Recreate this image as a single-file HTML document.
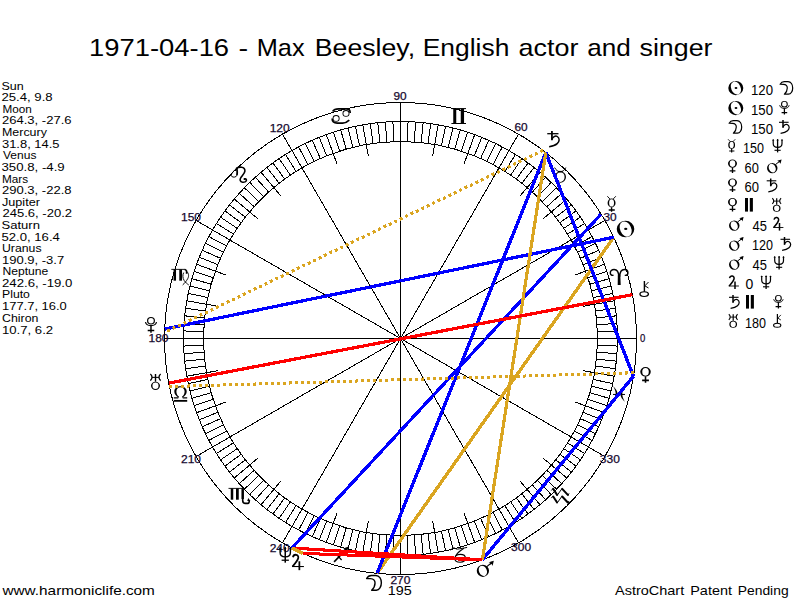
<!DOCTYPE html>
<html><head><meta charset="utf-8"><title>AstroChart</title>
<style>
html,body{margin:0;padding:0;background:#fff;overflow:hidden;}
body{width:800px;height:600px;font-family:"Liberation Sans",sans-serif;}
svg{display:block;}
</style></head><body>
<svg width="800" height="600" viewBox="0 0 800 600">
<rect width="800" height="600" fill="#fff"/>
<g shape-rendering="crispEdges" fill="none" stroke="#000" stroke-width="1">
<circle cx="400.5" cy="338.5" r="236.0"/>
<circle cx="400.5" cy="338.5" r="217.0"/>
<circle cx="400.5" cy="338.5" r="197.0"/>
<path d="M617.5,338.5L586.1,338.5M617.37,330.93L597.38,331.62M616.97,323.36L597.02,324.76M616.31,315.82L596.42,317.91M615.39,308.3L595.58,311.08M614.2,300.82L583.28,306.27M612.76,293.38L593.2,297.54M611.05,286L591.65,290.84M609.09,278.69L589.87,284.2M606.88,271.44L587.86,277.62M604.41,264.28L574.91,275.02M601.7,257.21L583.16,264.7M598.74,250.24L580.47,258.37M595.54,243.37L577.56,252.14M592.1,236.62L574.44,246.01M588.43,230L561.23,245.7M584.53,223.51L567.57,234.11M580.4,217.16L563.82,228.34M576.06,210.95L559.88,222.71M571.5,204.9L555.74,217.21M566.73,199.02L542.68,219.2M561.76,193.3L546.9,206.68M556.6,187.76L542.21,201.65M551.24,182.4L537.35,196.79M545.7,177.24L532.32,192.1M539.98,172.27L519.8,196.32M534.1,167.5L521.79,183.26M528.05,162.94L516.29,179.12M521.84,158.6L510.66,175.18M515.49,154.47L504.89,171.43M509,150.57L493.3,177.77M502.38,146.9L492.99,164.56M495.63,143.46L486.86,161.44M488.76,140.26L480.63,158.53M481.79,137.3L474.3,155.84M474.72,134.59L463.98,164.09M467.56,132.12L461.38,151.14M460.31,129.91L454.8,149.13M453,127.95L448.16,147.35M445.62,126.24L441.46,145.8M438.18,124.8L432.73,155.72M430.7,123.61L427.92,143.42M423.18,122.69L421.09,142.58M415.64,122.03L414.24,141.98M408.07,121.63L407.38,141.62M400.5,121.5L400.5,152.9M392.93,121.63L393.62,141.62M385.36,122.03L386.76,141.98M377.82,122.69L379.91,142.58M370.3,123.61L373.08,143.42M362.82,124.8L368.27,155.72M355.38,126.24L359.54,145.8M348,127.95L352.84,147.35M340.69,129.91L346.2,149.13M333.44,132.12L339.62,151.14M326.28,134.59L337.02,164.09M319.21,137.3L326.7,155.84M312.24,140.26L320.37,158.53M305.37,143.46L314.14,161.44M298.62,146.9L308.01,164.56M292,150.57L307.7,177.77M285.51,154.47L296.11,171.43M279.16,158.6L290.34,175.18M272.95,162.94L284.71,179.12M266.9,167.5L279.21,183.26M261.02,172.27L281.2,196.32M255.3,177.24L268.68,192.1M249.76,182.4L263.65,196.79M244.4,187.76L258.79,201.65M239.24,193.3L254.1,206.68M234.27,199.02L258.32,219.2M229.5,204.9L245.26,217.21M224.94,210.95L241.12,222.71M220.6,217.16L237.18,228.34M216.47,223.51L233.43,234.11M212.57,230L239.77,245.7M208.9,236.62L226.56,246.01M205.46,243.37L223.44,252.14M202.26,250.24L220.53,258.37M199.3,257.21L217.84,264.7M196.59,264.28L226.09,275.02M194.12,271.44L213.14,277.62M191.91,278.69L211.13,284.2M189.95,286L209.35,290.84M188.24,293.38L207.8,297.54M186.8,300.82L217.72,306.27M185.61,308.3L205.42,311.08M184.69,315.82L204.58,317.91M184.03,323.36L203.98,324.76M183.63,330.93L203.62,331.62M183.5,338.5L214.9,338.5M183.63,346.07L203.62,345.38M184.03,353.64L203.98,352.24M184.69,361.18L204.58,359.09M185.61,368.7L205.42,365.92M186.8,376.18L217.72,370.73M188.24,383.62L207.8,379.46M189.95,391L209.35,386.16M191.91,398.31L211.13,392.8M194.12,405.56L213.14,399.38M196.59,412.72L226.09,401.98M199.3,419.79L217.84,412.3M202.26,426.76L220.53,418.63M205.46,433.63L223.44,424.86M208.9,440.38L226.56,430.99M212.57,447L239.77,431.3M216.47,453.49L233.43,442.89M220.6,459.84L237.18,448.66M224.94,466.05L241.12,454.29M229.5,472.1L245.26,459.79M234.27,477.98L258.32,457.8M239.24,483.7L254.1,470.32M244.4,489.24L258.79,475.35M249.76,494.6L263.65,480.21M255.3,499.76L268.68,484.9M261.02,504.73L281.2,480.68M266.9,509.5L279.21,493.74M272.95,514.06L284.71,497.88M279.16,518.4L290.34,501.82M285.51,522.53L296.11,505.57M292,526.43L307.7,499.23M298.62,530.1L308.01,512.44M305.37,533.54L314.14,515.56M312.24,536.74L320.37,518.47M319.21,539.7L326.7,521.16M326.28,542.41L337.02,512.91M333.44,544.88L339.62,525.86M340.69,547.09L346.2,527.87M348,549.05L352.84,529.65M355.38,550.76L359.54,531.2M362.82,552.2L368.27,521.28M370.3,553.39L373.08,533.58M377.82,554.31L379.91,534.42M385.36,554.97L386.76,535.02M392.93,555.37L393.62,535.38M400.5,555.5L400.5,524.1M408.07,555.37L407.38,535.38M415.64,554.97L414.24,535.02M423.18,554.31L421.09,534.42M430.7,553.39L427.92,533.58M438.18,552.2L432.73,521.28M445.62,550.76L441.46,531.2M453,549.05L448.16,529.65M460.31,547.09L454.8,527.87M467.56,544.88L461.38,525.86M474.72,542.41L463.98,512.91M481.79,539.7L474.3,521.16M488.76,536.74L480.63,518.47M495.63,533.54L486.86,515.56M502.38,530.1L492.99,512.44M509,526.43L493.3,499.23M515.49,522.53L504.89,505.57M521.84,518.4L510.66,501.82M528.05,514.06L516.29,497.88M534.1,509.5L521.79,493.74M539.98,504.73L519.8,480.68M545.7,499.76L532.32,484.9M551.24,494.6L537.35,480.21M556.6,489.24L542.21,475.35M561.76,483.7L546.9,470.32M566.73,477.98L542.68,457.8M571.5,472.1L555.74,459.79M576.06,466.05L559.88,454.29M580.4,459.84L563.82,448.66M584.53,453.49L567.57,442.89M588.43,447L561.23,431.3M592.1,440.38L574.44,430.99M595.54,433.63L577.56,424.86M598.74,426.76L580.47,418.63M601.7,419.79L583.16,412.3M604.41,412.72L574.91,401.98M606.88,405.56L587.86,399.38M609.09,398.31L589.87,392.8M611.05,391L591.65,386.16M612.76,383.62L593.2,379.46M614.2,376.18L583.28,370.73M615.39,368.7L595.58,365.92M616.31,361.18L596.42,359.09M616.97,353.64L597.02,352.24M617.37,346.07L597.38,345.38M400.5,338.5L636.5,338.5M400.5,338.5L604.88,220.5M400.5,338.5L518.5,134.12M400.5,338.5L400.5,102.5M400.5,338.5L282.5,134.12M400.5,338.5L196.12,220.5M400.5,338.5L164.5,338.5M400.5,338.5L196.12,456.5M400.5,338.5L282.5,542.88M400.5,338.5L400.5,574.5M400.5,338.5L518.5,542.88M400.5,338.5L604.88,456.5"/>
</g>
<g id="zodiac">
<g transform="translate(609.5,268.77) scale(1)"><path d="M8.2,16.25H11.2L10.9,8.5C10.8,7 10.6,6 10.2,5L9.5,4.4L8.8,5C8.4,6 8.3,7 8.3,8.5z"/><path d="M9.3,8C9.2,4 7.6,0.8 4.6,0.8C2.2,0.8 0.8,2.4 0.8,4.2C0.8,5.8 2.2,6.9 4,6.5" fill="none" stroke="#000" stroke-width="1.45" stroke-linecap="butt" stroke-linejoin="miter"/><path d="M10.2,8C10.3,4 11.9,0.8 14.9,0.8C17.3,0.8 18.4,2.4 18.4,4.2C18.4,5.8 17.1,6.9 15.3,6.5" fill="none" stroke="#000" stroke-width="1.45" stroke-linecap="butt" stroke-linejoin="miter"/></g>
<g transform="translate(554.5,167.45) scale(1)"><path d="M0.3,9.6a5.6,5.7 0 1,0 11.2,0a5.6,5.7 0 1,0 -11.2,0zM1.7,9.6A4.2,4.9 0 1,0 10.1,9.6A4.2,4.9 0 1,0 1.7,9.6z" fill-rule="evenodd"/><path d="M0.1,0.1C1.6,2.8 3.4,4.3 5.8,4.3C8.2,4.3 10,2.8 11.3,0.1" fill="none" stroke="#000" stroke-width="1.0" stroke-linecap="butt" stroke-linejoin="miter"/><path d="M3.6,4.1H8" fill="none" stroke="#000" stroke-width="1.3" stroke-linecap="butt" stroke-linejoin="miter"/></g>
<g transform="translate(451.4,108.1) scale(1)"><rect x="1.85" y="0.5" width="3" height="15"/><rect x="9.35" y="0.5" width="3.3" height="15"/><path d="M0,0.5H14.6M0,15.4H14.6" fill="none" stroke="#000" stroke-width="1.0" stroke-linecap="butt" stroke-linejoin="miter"/></g>
<g transform="translate(331.6,107.9) scale(1)"><path d="M1.1,3.6C2.4,1.2 4.8,0.9 7,0.9H15C17.4,0.9 18.6,2.8 18.6,5" fill="none" stroke="#000" stroke-width="1.7" stroke-linecap="butt" stroke-linejoin="miter"/><path d="M10.9,5.5a3.5,3.3 0 1,0 7,0a3.5,3.3 0 1,0 -7,0zM11.8,5.5A2.6,2.5 0 1,0 17,5.5A2.6,2.5 0 1,0 11.8,5.5z" fill-rule="evenodd"/><path d="M0.5,10.6C0.5,13.4 2.6,15.2 5.6,15.2H11C13.6,15.2 16,13.8 17.7,12.2" fill="none" stroke="#000" stroke-width="1.6" stroke-linecap="butt" stroke-linejoin="miter"/><path d="M1,10.5a3.5,3.3 0 1,0 7,0a3.5,3.3 0 1,0 -7,0zM1.9,10.5A2.6,2.5 0 1,0 7.1,10.5A2.6,2.5 0 1,0 1.9,10.5z" fill-rule="evenodd"/></g>
<g transform="translate(230.5,166.5) scale(1)"><path d="M6.3,1.6C6.7,4 6.9,6.5 6.5,8.6" fill="none" stroke="#000" stroke-width="1.8" stroke-linecap="butt" stroke-linejoin="miter"/><path d="M6.5,8.6C6,10.8 2.6,11.2 1.2,9.9C0,8.7 1.4,6.8 2.6,5.4C3.8,4 5,2.4 6.3,1.6" fill="none" stroke="#000" stroke-width="1.0" stroke-linecap="butt" stroke-linejoin="miter"/><path d="M6.1,1.7C7.6,0.7 9.6,0.6 11,0.7C13.4,0.9 14.6,2.6 14.4,4.7C14.2,7 11.4,9.4 10.2,11.4C9.2,13 9.4,15.5 12,15.7C14,15.9 15.8,15.3 15.9,13.8C16,12.5 14.8,12 13.9,12.5" fill="none" stroke="#000" stroke-width="1.6" stroke-linecap="round" stroke-linejoin="round"/><circle cx="14.2" cy="12.6" r="1.0"/></g>
<g transform="translate(171.28,268.98) scale(1)"><path d="M0,0.4H14" fill="none" stroke="#000" stroke-width="0.9" stroke-linecap="butt" stroke-linejoin="miter"/><rect x="2.25" y="0.4" width="2.5" height="11.3"/><rect x="8" y="0.4" width="2.75" height="11.3"/><path d="M13.4,0.5C15.4,0.9 15.7,3 15.2,4.8" fill="none" stroke="#000" stroke-width="1.7" stroke-linecap="butt" stroke-linejoin="miter"/><path d="M15,2.2C17.4,3.8 18,7 16.4,9.8C15,12.2 13,14.6 11.4,16" fill="none" stroke="#000" stroke-width="0.95" stroke-linecap="butt" stroke-linejoin="miter"/><path d="M12.4,3.6C11.2,6 11.4,9 12.8,11.4C14,13.4 16,15 17.5,16" fill="none" stroke="#000" stroke-width="0.95" stroke-linecap="butt" stroke-linejoin="miter"/></g>
<g transform="translate(173.7,386.25) scale(1)"><path d="M0.1,11.6H4.6M9,11.6H13.5" fill="none" stroke="#000" stroke-width="1.2" stroke-linecap="butt" stroke-linejoin="miter"/><path d="M4.9,11.4C2,9.6 0.6,7.4 0.6,5.2C0.6,2 3.4,0 6.8,0C10.2,0 13,2 13,5.2C13,7.4 11.6,9.6 8.7,11.4L8.2,10.6C10,9.2 10.9,7.4 10.9,5.2C10.9,2.6 9.2,0.9 6.8,0.9C4.4,0.9 2.7,2.6 2.7,5.2C2.7,7.4 3.6,9.2 5.4,10.6z"/><rect x="0.1" y="13.7" width="13.4" height="1.8"/></g>
<g transform="translate(228.5,488) scale(1)"><path d="M0,0.4H15" fill="none" stroke="#000" stroke-width="0.9" stroke-linecap="butt" stroke-linejoin="miter"/><rect x="2.25" y="0.4" width="2.5" height="11.3"/><rect x="7.5" y="0.4" width="2.75" height="11.3"/><path d="M14.2,0.4V12.4C14.2,14.9 15.4,15.4 17,15.4H19.4C20.4,15.4 20.8,14.6 20.8,12.6" fill="none" stroke="#000" stroke-width="1.6" stroke-linecap="butt" stroke-linejoin="miter"/><path d="M14.2,0.4V11" fill="none" stroke="#000" stroke-width="2.4" stroke-linecap="butt" stroke-linejoin="miter"/><path d="M19.8,10.1L21.9,13L18.7,13z"/></g>
<g transform="translate(333.6,546.6) scale(1)"><path d="M0.5,15.3L13,2.4" fill="none" stroke="#000" stroke-width="1.6" stroke-linecap="butt" stroke-linejoin="miter"/><path d="M4.2,9.2L8,13.4" fill="none" stroke="#000" stroke-width="1.2" stroke-linecap="butt" stroke-linejoin="miter"/><path d="M15,0L9.6,1.8L13.4,5.6z"/></g>
<g transform="translate(450.52,547.02) scale(1)"><path d="M0,3.4C1,1.6 2.6,0.4 3.8,0.9C5,1.4 5.6,2.3 7,2.1C9.6,1.7 13.4,1 16.6,0.4" fill="none" stroke="#000" stroke-width="1.0" stroke-linecap="butt" stroke-linejoin="miter"/><path d="M13.4,1.2C9.6,3.6 4.4,7 4.4,11.4C4.4,14.2 6.8,15.2 9.6,15.2C12.6,15.2 14.9,13.8 14.9,11.3C14.9,8.8 12.6,7.4 9.8,7.4C8,7.4 6.4,7.9 5.4,8.8" fill="none" stroke="#000" stroke-width="1.15" stroke-linecap="butt" stroke-linejoin="miter"/></g>
<g transform="translate(551,488) scale(1)"><path d="M0.3,2.5L2,0.6L6.3,7.2L11,0.6L17.1,7.2L18,5.4M0.3,10.1L2,8.2L6.3,14.8L11,8.2L17.1,14.8L18,13" fill="none" stroke="#000" stroke-width="1.0" stroke-linecap="butt" stroke-linejoin="round"/><path d="M2.2,0.9L6.1,6.9M11.2,0.9L16.8,6.9M2.2,8.5L6.1,14.5M11.2,8.5L16.8,14.5" fill="none" stroke="#000" stroke-width="2.0" stroke-linecap="round" stroke-linejoin="miter"/></g>
<g transform="translate(613,386.25) scale(1)"><path d="M0.2,0C3.8,3.5 4.6,6 4.6,7.75C4.6,9.5 3.8,12 0.2,15.5C2.2,12 2.7,9.5 2.7,7.75C2.7,6 2.2,3.5 0.2,0z"/><path d="M11.8,0C8.2,3.5 7.4,6 7.4,7.75C7.4,9.5 8.2,12 11.8,15.5C9.8,12 9.3,9.5 9.3,7.75C9.3,6 9.8,3.5 11.8,0z"/><path d="M0,8.2H12" fill="none" stroke="#000" stroke-width="1.0" stroke-linecap="butt" stroke-linejoin="miter"/></g>
</g>
<g font-family="Liberation Sans, sans-serif" font-size="11.2" fill="#16082e" stroke="#16082e" stroke-width="0.25">
<text x="639.95" y="342.2" textLength="5.3" lengthAdjust="spacingAndGlyphs">0</text>
<text x="603.52" y="220.6" textLength="13.2" lengthAdjust="spacingAndGlyphs">30</text>
<text x="514.5" y="131.38" textLength="13.2" lengthAdjust="spacingAndGlyphs">60</text>
<text x="393.4" y="99.8" textLength="13.2" lengthAdjust="spacingAndGlyphs">90</text>
<text x="269.7" y="132.28" textLength="20.0" lengthAdjust="spacingAndGlyphs">120</text>
<text x="180.98" y="221" textLength="20.0" lengthAdjust="spacingAndGlyphs">150</text>
<text x="148.5" y="342.2" textLength="20.0" lengthAdjust="spacingAndGlyphs">180</text>
<text x="180.98" y="463.4" textLength="20.0" lengthAdjust="spacingAndGlyphs">210</text>
<text x="269.7" y="552.12" textLength="20.0" lengthAdjust="spacingAndGlyphs">240</text>
<text x="390.4" y="583.6" textLength="20.0" lengthAdjust="spacingAndGlyphs">270</text>
<text x="511.1" y="551.32" textLength="20.0" lengthAdjust="spacingAndGlyphs">300</text>
<text x="599.82" y="463.4" textLength="20.0" lengthAdjust="spacingAndGlyphs">330</text>
</g>
<g shape-rendering="crispEdges" stroke-width="3" fill="none">
<line x1="613.69" y1="237.27" x2="377.06" y2="573.33" stroke="#DAA520" stroke-width="3.37"/>
<line x1="613.69" y1="237.27" x2="164.69" y2="329.03" stroke="#0000FF" stroke-width="3.26"/>
<line x1="377.06" y1="573.33" x2="545.8" y2="152.53" stroke="#0000FF" stroke-width="3.38"/>
<line x1="601.07" y1="214.14" x2="291.89" y2="548.02" stroke="#0000FF" stroke-width="3.29"/>
<line x1="633.46" y1="376.23" x2="482.38" y2="559.84" stroke="#0000FF" stroke-width="3.33"/>
<line x1="633.46" y1="376.23" x2="545.8" y2="152.53" stroke="#0000FF" stroke-width="3.38"/>
<line x1="634" y1="372.77" x2="169.45" y2="386.56" stroke="#DAA520" stroke-width="3.03" stroke-dasharray="3 3"/>
<line x1="482.38" y1="559.84" x2="303.01" y2="553.42" stroke="#FF0000" stroke-width="3.06"/>
<line x1="482.38" y1="559.84" x2="545.8" y2="152.53" stroke="#DAA520" stroke-width="3.21"/>
<line x1="482.38" y1="559.84" x2="291.89" y2="548.02" stroke="#FF0000" stroke-width="3.09"/>
<line x1="303.01" y1="553.42" x2="291.89" y2="548.02" stroke="#DAA520" stroke-width="3.4"/>
<line x1="543.02" y1="150.39" x2="164.58" y2="332.53" stroke="#DAA520" stroke-width="3.14" stroke-dasharray="3 3"/>
<line x1="168.76" y1="383.13" x2="632.4" y2="294.68" stroke="#FF0000" stroke-width="3.25"/>
</g>
<g id="planets">
<g transform="translate(547.25,131) scale(1.17)"><path d="M4,0V7.8" fill="none" stroke="#000" stroke-width="1.5" stroke-linecap="butt" stroke-linejoin="miter"/><path d="M0,2.3H9.6" fill="none" stroke="#000" stroke-width="1.1" stroke-linecap="butt" stroke-linejoin="miter"/><path d="M4,7.4C4.5,5 7,3.7 8.6,4.7C10.8,6.1 10.6,9 8.5,10.8C7,12.2 5,13 1.6,13.4" fill="none" stroke="#000" stroke-width="1.25" stroke-linecap="butt" stroke-linejoin="miter"/></g>
<g transform="translate(607.3,196) scale(1.17)"><path d="M0.25,5.9a3.4,3.85 0 1,0 6.8,0a3.4,3.85 0 1,0 -6.8,0zM1.55,5.9A2.1,3.1 0 1,0 5.75,5.9A2.1,3.1 0 1,0 1.55,5.9z" fill-rule="evenodd"/><path d="M0,0.2L2.2,2.5M7.3,0.2L5.1,2.5" fill="none" stroke="#000" stroke-width="0.8" stroke-linecap="butt" stroke-linejoin="miter"/><path d="M3.65,9.6V13.5M1.2,12H6.4" fill="none" stroke="#000" stroke-width="1.2" stroke-linecap="butt" stroke-linejoin="miter"/></g>
<g transform="translate(616.75,220.75) scale(1.17)"><path d="M0,7.1a7.5,7.1 0 1,0 15,0a7.5,7.1 0 1,0 -15,0zM3.31,9.01A4.7,6.5 -24 1,0 11.89,5.19A4.7,6.5 -24 1,0 3.31,9.01z" fill-rule="evenodd"/><ellipse cx="7.7" cy="7" rx="1.4" ry="0.95"/></g>
<g transform="translate(639.25,281) scale(1.17)"><path d="M4.4,0V9.2" fill="none" stroke="#000" stroke-width="1.2" stroke-linecap="butt" stroke-linejoin="miter"/><path d="M7.9,0.9L4.8,4.1L7.9,6" fill="none" stroke="#000" stroke-width="0.85" stroke-linecap="butt" stroke-linejoin="miter"/><path d="M0,11.2a4.2,2.5 0 1,0 8.4,0a4.2,2.5 0 1,0 -8.4,0zM1.2,11.2A3,1.55 0 1,0 7.2,11.2A3,1.55 0 1,0 1.2,11.2z" fill-rule="evenodd"/></g>
<g transform="translate(640.25,367) scale(1.17)"><path d="M0,4.1a4.5,4.1 0 1,0 9,0a4.5,4.1 0 1,0 -9,0zM1.7,4.1A2.8,3.3 0 1,0 7.3,4.1A2.8,3.3 0 1,0 1.7,4.1z" fill-rule="evenodd"/><path d="M4.5,8V13.5M1.6,11.4H7.4" fill="none" stroke="#000" stroke-width="1.35" stroke-linecap="butt" stroke-linejoin="miter"/></g>
<g transform="translate(476.75,560.75) scale(1.17)"><path d="M0,8.6a5.25,5.2 0 1,0 10.5,0a5.25,5.2 0 1,0 -10.5,0zM2.24,9.94A3.3,4.3 -24 1,0 8.26,7.26A3.3,4.3 -24 1,0 2.24,9.94z" fill-rule="evenodd"/><path d="M8.6,5L13.4,1.1" fill="none" stroke="#000" stroke-width="1.0" stroke-linecap="butt" stroke-linejoin="miter"/><path d="M14.6,0L10.2,1.3L11.9,1.9L11.3,3.4L12.8,2.7L13.5,4.4z"/></g>
<g transform="translate(366.5,574.75) scale(1.17)"><path d="M0.1,3.2C1.2,1.2 2.6,0.6 4.2,0.6H8C11,0.6 12.7,3.6 12.7,6.9C12.7,10.2 11,13.2 8.4,13.2H4.4C6.2,11.6 7.3,9.6 7.3,7.1C7.3,4.6 5.6,3.4 3.4,3.3z" fill="none" stroke="#000" stroke-width="1.2" stroke-linecap="butt" stroke-linejoin="round"/></g>
<g transform="translate(291.75,554.25) scale(1.17)"><path d="M1.0,2.6C1.4,0.8 2.8,0.3 3.8,0.5C5.3,0.8 5.9,2 5.5,3.5C4.9,5.8 2.6,8.2 0.6,10.5" fill="none" stroke="#000" stroke-width="1.5" stroke-linecap="butt" stroke-linejoin="miter"/><path d="M0.2,10.5H10.4" fill="none" stroke="#000" stroke-width="0.9" stroke-linecap="butt" stroke-linejoin="miter"/><path d="M6.5,6V13.6" fill="none" stroke="#000" stroke-width="1.5" stroke-linecap="butt" stroke-linejoin="miter"/></g>
<g transform="translate(278.7,547) scale(1.17)"><path d="M1.2,0.7V4.6C1.2,7.4 3,8.4 5.6,8.4C8.2,8.4 10,7.4 10,4.6V0.7" fill="none" stroke="#000" stroke-width="1.2" stroke-linecap="butt" stroke-linejoin="miter"/><path d="M5.6,0.2V13.4" fill="none" stroke="#000" stroke-width="1.3" stroke-linecap="butt" stroke-linejoin="miter"/><path d="M2.5,11.3H8.7" fill="none" stroke="#000" stroke-width="1.1" stroke-linecap="butt" stroke-linejoin="miter"/><path d="M0,1.6L1.2,0L2.4,1.6zM8.8,1.6L10,0L11.2,1.6zM4.4,1.5L5.6,-0.1L6.8,1.5z"/></g>
<g transform="translate(150,373.75) scale(1.17)"><path d="M0.3,0.2C2.2,1.7 2.2,4.4 0.3,5.9M9.1,0.2C7.2,1.7 7.2,4.4 9.1,5.9" fill="none" stroke="#000" stroke-width="1.15" stroke-linecap="butt" stroke-linejoin="miter"/><path d="M1.7,3.1H7.7" fill="none" stroke="#000" stroke-width="0.9" stroke-linecap="butt" stroke-linejoin="miter"/><path d="M4.7,0.2V6.8" fill="none" stroke="#000" stroke-width="1.2" stroke-linecap="butt" stroke-linejoin="miter"/><path d="M0.85,10.3a3.85,3.5 0 1,0 7.7,0a3.85,3.5 0 1,0 -7.7,0zM2.1,10.3A2.6,2.8 0 1,0 7.3,10.3A2.6,2.8 0 1,0 2.1,10.3z" fill-rule="evenodd"/></g>
<g transform="translate(145.25,317) scale(1.17)"><path d="M1.5,3.2a3.4,3.2 0 1,0 6.8,0a3.4,3.2 0 1,0 -6.8,0zM2.55,3.2A2.35,2.35 0 1,0 7.25,3.2A2.35,2.35 0 1,0 2.55,3.2z" fill-rule="evenodd"/><path d="M0.2,4.3C0.7,8.4 9.1,8.4 9.6,4.3" fill="none" stroke="#000" stroke-width="1.0" stroke-linecap="butt" stroke-linejoin="miter"/><path d="M4.9,7.2V13.5M2.1,11.5H7.7" fill="none" stroke="#000" stroke-width="1.25" stroke-linecap="butt" stroke-linejoin="miter"/></g>
</g>
<g id="aspects">
<g transform="translate(728.3,81) scale(1)"><path d="M0,7.1a7.5,7.1 0 1,0 15,0a7.5,7.1 0 1,0 -15,0zM3.31,9.01A4.7,6.5 -24 1,0 11.89,5.19A4.7,6.5 -24 1,0 3.31,9.01z" fill-rule="evenodd"/><ellipse cx="7.7" cy="7" rx="1.4" ry="0.95"/></g>
<g transform="translate(780,81) scale(1)"><path d="M0.1,3.2C1.2,1.2 2.6,0.6 4.2,0.6H8C11,0.6 12.7,3.6 12.7,6.9C12.7,10.2 11,13.2 8.4,13.2H4.4C6.2,11.6 7.3,9.6 7.3,7.1C7.3,4.6 5.6,3.4 3.4,3.3z" fill="none" stroke="#000" stroke-width="1.2" stroke-linecap="butt" stroke-linejoin="round"/></g>
<g transform="translate(728.3,101) scale(1)"><path d="M0,7.1a7.5,7.1 0 1,0 15,0a7.5,7.1 0 1,0 -15,0zM3.31,9.01A4.7,6.5 -24 1,0 11.89,5.19A4.7,6.5 -24 1,0 3.31,9.01z" fill-rule="evenodd"/><ellipse cx="7.7" cy="7" rx="1.4" ry="0.95"/></g>
<g transform="translate(779.5,101) scale(1)"><path d="M1.5,3.2a3.4,3.2 0 1,0 6.8,0a3.4,3.2 0 1,0 -6.8,0zM2.55,3.2A2.35,2.35 0 1,0 7.25,3.2A2.35,2.35 0 1,0 2.55,3.2z" fill-rule="evenodd"/><path d="M0.2,4.3C0.7,8.4 9.1,8.4 9.6,4.3" fill="none" stroke="#000" stroke-width="1.0" stroke-linecap="butt" stroke-linejoin="miter"/><path d="M4.9,7.2V13.5M2.1,11.5H7.7" fill="none" stroke="#000" stroke-width="1.25" stroke-linecap="butt" stroke-linejoin="miter"/></g>
<g transform="translate(729,120) scale(1)"><path d="M0.1,3.2C1.2,1.2 2.6,0.6 4.2,0.6H8C11,0.6 12.7,3.6 12.7,6.9C12.7,10.2 11,13.2 8.4,13.2H4.4C6.2,11.6 7.3,9.6 7.3,7.1C7.3,4.6 5.6,3.4 3.4,3.3z" fill="none" stroke="#000" stroke-width="1.2" stroke-linecap="butt" stroke-linejoin="round"/></g>
<g transform="translate(779,120) scale(1)"><path d="M4,0V7.8" fill="none" stroke="#000" stroke-width="1.5" stroke-linecap="butt" stroke-linejoin="miter"/><path d="M0,2.3H9.6" fill="none" stroke="#000" stroke-width="1.1" stroke-linecap="butt" stroke-linejoin="miter"/><path d="M4,7.4C4.5,5 7,3.7 8.6,4.7C10.8,6.1 10.6,9 8.5,10.8C7,12.2 5,13 1.6,13.4" fill="none" stroke="#000" stroke-width="1.25" stroke-linecap="butt" stroke-linejoin="miter"/></g>
<g transform="translate(728,139) scale(1)"><path d="M0.25,5.9a3.4,3.85 0 1,0 6.8,0a3.4,3.85 0 1,0 -6.8,0zM1.55,5.9A2.1,3.1 0 1,0 5.75,5.9A2.1,3.1 0 1,0 1.55,5.9z" fill-rule="evenodd"/><path d="M0,0.2L2.2,2.5M7.3,0.2L5.1,2.5" fill="none" stroke="#000" stroke-width="0.8" stroke-linecap="butt" stroke-linejoin="miter"/><path d="M3.65,9.6V13.5M1.2,12H6.4" fill="none" stroke="#000" stroke-width="1.2" stroke-linecap="butt" stroke-linejoin="miter"/></g>
<g transform="translate(772,139) scale(1)"><path d="M1.2,0.7V4.6C1.2,7.4 3,8.4 5.6,8.4C8.2,8.4 10,7.4 10,4.6V0.7" fill="none" stroke="#000" stroke-width="1.2" stroke-linecap="butt" stroke-linejoin="miter"/><path d="M5.6,0.2V13.4" fill="none" stroke="#000" stroke-width="1.3" stroke-linecap="butt" stroke-linejoin="miter"/><path d="M2.5,11.3H8.7" fill="none" stroke="#000" stroke-width="1.1" stroke-linecap="butt" stroke-linejoin="miter"/><path d="M0,1.6L1.2,0L2.4,1.6zM8.8,1.6L10,0L11.2,1.6zM4.4,1.5L5.6,-0.1L6.8,1.5z"/></g>
<g transform="translate(728,159.5) scale(1)"><path d="M0,4.1a4.5,4.1 0 1,0 9,0a4.5,4.1 0 1,0 -9,0zM1.7,4.1A2.8,3.3 0 1,0 7.3,4.1A2.8,3.3 0 1,0 1.7,4.1z" fill-rule="evenodd"/><path d="M4.5,8V13.5M1.6,11.4H7.4" fill="none" stroke="#000" stroke-width="1.35" stroke-linecap="butt" stroke-linejoin="miter"/></g>
<g transform="translate(767,159.5) scale(1)"><path d="M0,8.6a5.25,5.2 0 1,0 10.5,0a5.25,5.2 0 1,0 -10.5,0zM2.24,9.94A3.3,4.3 -24 1,0 8.26,7.26A3.3,4.3 -24 1,0 2.24,9.94z" fill-rule="evenodd"/><path d="M8.6,5L13.4,1.1" fill="none" stroke="#000" stroke-width="1.0" stroke-linecap="butt" stroke-linejoin="miter"/><path d="M14.6,0L10.2,1.3L11.9,1.9L11.3,3.4L12.8,2.7L13.5,4.4z"/></g>
<g transform="translate(728,178.5) scale(1)"><path d="M0,4.1a4.5,4.1 0 1,0 9,0a4.5,4.1 0 1,0 -9,0zM1.7,4.1A2.8,3.3 0 1,0 7.3,4.1A2.8,3.3 0 1,0 1.7,4.1z" fill-rule="evenodd"/><path d="M4.5,8V13.5M1.6,11.4H7.4" fill="none" stroke="#000" stroke-width="1.35" stroke-linecap="butt" stroke-linejoin="miter"/></g>
<g transform="translate(766.7,178.5) scale(1)"><path d="M4,0V7.8" fill="none" stroke="#000" stroke-width="1.5" stroke-linecap="butt" stroke-linejoin="miter"/><path d="M0,2.3H9.6" fill="none" stroke="#000" stroke-width="1.1" stroke-linecap="butt" stroke-linejoin="miter"/><path d="M4,7.4C4.5,5 7,3.7 8.6,4.7C10.8,6.1 10.6,9 8.5,10.8C7,12.2 5,13 1.6,13.4" fill="none" stroke="#000" stroke-width="1.25" stroke-linecap="butt" stroke-linejoin="miter"/></g>
<g transform="translate(728,198) scale(1)"><path d="M0,4.1a4.5,4.1 0 1,0 9,0a4.5,4.1 0 1,0 -9,0zM1.7,4.1A2.8,3.3 0 1,0 7.3,4.1A2.8,3.3 0 1,0 1.7,4.1z" fill-rule="evenodd"/><path d="M4.5,8V13.5M1.6,11.4H7.4" fill="none" stroke="#000" stroke-width="1.35" stroke-linecap="butt" stroke-linejoin="miter"/></g>
<g transform="translate(745,198) scale(1)"><rect x="0" y="0" width="3" height="13.6"/><rect x="4.8" y="0" width="3.1" height="13.6"/></g>
<g transform="translate(772,198) scale(1)"><path d="M0.3,0.2C2.2,1.7 2.2,4.4 0.3,5.9M9.1,0.2C7.2,1.7 7.2,4.4 9.1,5.9" fill="none" stroke="#000" stroke-width="1.15" stroke-linecap="butt" stroke-linejoin="miter"/><path d="M1.7,3.1H7.7" fill="none" stroke="#000" stroke-width="0.9" stroke-linecap="butt" stroke-linejoin="miter"/><path d="M4.7,0.2V6.8" fill="none" stroke="#000" stroke-width="1.2" stroke-linecap="butt" stroke-linejoin="miter"/><path d="M0.85,10.3a3.85,3.5 0 1,0 7.7,0a3.85,3.5 0 1,0 -7.7,0zM2.1,10.3A2.6,2.8 0 1,0 7.3,10.3A2.6,2.8 0 1,0 2.1,10.3z" fill-rule="evenodd"/></g>
<g transform="translate(729,217) scale(1)"><path d="M0,8.6a5.25,5.2 0 1,0 10.5,0a5.25,5.2 0 1,0 -10.5,0zM2.24,9.94A3.3,4.3 -24 1,0 8.26,7.26A3.3,4.3 -24 1,0 2.24,9.94z" fill-rule="evenodd"/><path d="M8.6,5L13.4,1.1" fill="none" stroke="#000" stroke-width="1.0" stroke-linecap="butt" stroke-linejoin="miter"/><path d="M14.6,0L10.2,1.3L11.9,1.9L11.3,3.4L12.8,2.7L13.5,4.4z"/></g>
<g transform="translate(773,217) scale(1)"><path d="M1.0,2.6C1.4,0.8 2.8,0.3 3.8,0.5C5.3,0.8 5.9,2 5.5,3.5C4.9,5.8 2.6,8.2 0.6,10.5" fill="none" stroke="#000" stroke-width="1.5" stroke-linecap="butt" stroke-linejoin="miter"/><path d="M0.2,10.5H10.4" fill="none" stroke="#000" stroke-width="0.9" stroke-linecap="butt" stroke-linejoin="miter"/><path d="M6.5,6V13.6" fill="none" stroke="#000" stroke-width="1.5" stroke-linecap="butt" stroke-linejoin="miter"/></g>
<g transform="translate(729,237) scale(1)"><path d="M0,8.6a5.25,5.2 0 1,0 10.5,0a5.25,5.2 0 1,0 -10.5,0zM2.24,9.94A3.3,4.3 -24 1,0 8.26,7.26A3.3,4.3 -24 1,0 2.24,9.94z" fill-rule="evenodd"/><path d="M8.6,5L13.4,1.1" fill="none" stroke="#000" stroke-width="1.0" stroke-linecap="butt" stroke-linejoin="miter"/><path d="M14.6,0L10.2,1.3L11.9,1.9L11.3,3.4L12.8,2.7L13.5,4.4z"/></g>
<g transform="translate(780.5,237) scale(1)"><path d="M4,0V7.8" fill="none" stroke="#000" stroke-width="1.5" stroke-linecap="butt" stroke-linejoin="miter"/><path d="M0,2.3H9.6" fill="none" stroke="#000" stroke-width="1.1" stroke-linecap="butt" stroke-linejoin="miter"/><path d="M4,7.4C4.5,5 7,3.7 8.6,4.7C10.8,6.1 10.6,9 8.5,10.8C7,12.2 5,13 1.6,13.4" fill="none" stroke="#000" stroke-width="1.25" stroke-linecap="butt" stroke-linejoin="miter"/></g>
<g transform="translate(729,256) scale(1)"><path d="M0,8.6a5.25,5.2 0 1,0 10.5,0a5.25,5.2 0 1,0 -10.5,0zM2.24,9.94A3.3,4.3 -24 1,0 8.26,7.26A3.3,4.3 -24 1,0 2.24,9.94z" fill-rule="evenodd"/><path d="M8.6,5L13.4,1.1" fill="none" stroke="#000" stroke-width="1.0" stroke-linecap="butt" stroke-linejoin="miter"/><path d="M14.6,0L10.2,1.3L11.9,1.9L11.3,3.4L12.8,2.7L13.5,4.4z"/></g>
<g transform="translate(773.5,256) scale(1)"><path d="M1.2,0.7V4.6C1.2,7.4 3,8.4 5.6,8.4C8.2,8.4 10,7.4 10,4.6V0.7" fill="none" stroke="#000" stroke-width="1.2" stroke-linecap="butt" stroke-linejoin="miter"/><path d="M5.6,0.2V13.4" fill="none" stroke="#000" stroke-width="1.3" stroke-linecap="butt" stroke-linejoin="miter"/><path d="M2.5,11.3H8.7" fill="none" stroke="#000" stroke-width="1.1" stroke-linecap="butt" stroke-linejoin="miter"/><path d="M0,1.6L1.2,0L2.4,1.6zM8.8,1.6L10,0L11.2,1.6zM4.4,1.5L5.6,-0.1L6.8,1.5z"/></g>
<g transform="translate(728.5,275.5) scale(1)"><path d="M1.0,2.6C1.4,0.8 2.8,0.3 3.8,0.5C5.3,0.8 5.9,2 5.5,3.5C4.9,5.8 2.6,8.2 0.6,10.5" fill="none" stroke="#000" stroke-width="1.5" stroke-linecap="butt" stroke-linejoin="miter"/><path d="M0.2,10.5H10.4" fill="none" stroke="#000" stroke-width="0.9" stroke-linecap="butt" stroke-linejoin="miter"/><path d="M6.5,6V13.6" fill="none" stroke="#000" stroke-width="1.5" stroke-linecap="butt" stroke-linejoin="miter"/></g>
<g transform="translate(760.5,275.5) scale(1)"><path d="M1.2,0.7V4.6C1.2,7.4 3,8.4 5.6,8.4C8.2,8.4 10,7.4 10,4.6V0.7" fill="none" stroke="#000" stroke-width="1.2" stroke-linecap="butt" stroke-linejoin="miter"/><path d="M5.6,0.2V13.4" fill="none" stroke="#000" stroke-width="1.3" stroke-linecap="butt" stroke-linejoin="miter"/><path d="M2.5,11.3H8.7" fill="none" stroke="#000" stroke-width="1.1" stroke-linecap="butt" stroke-linejoin="miter"/><path d="M0,1.6L1.2,0L2.4,1.6zM8.8,1.6L10,0L11.2,1.6zM4.4,1.5L5.6,-0.1L6.8,1.5z"/></g>
<g transform="translate(729,295) scale(1)"><path d="M4,0V7.8" fill="none" stroke="#000" stroke-width="1.5" stroke-linecap="butt" stroke-linejoin="miter"/><path d="M0,2.3H9.6" fill="none" stroke="#000" stroke-width="1.1" stroke-linecap="butt" stroke-linejoin="miter"/><path d="M4,7.4C4.5,5 7,3.7 8.6,4.7C10.8,6.1 10.6,9 8.5,10.8C7,12.2 5,13 1.6,13.4" fill="none" stroke="#000" stroke-width="1.25" stroke-linecap="butt" stroke-linejoin="miter"/></g>
<g transform="translate(746,295) scale(1)"><rect x="0" y="0" width="3" height="13.6"/><rect x="4.8" y="0" width="3.1" height="13.6"/></g>
<g transform="translate(773.5,295) scale(1)"><path d="M1.5,3.2a3.4,3.2 0 1,0 6.8,0a3.4,3.2 0 1,0 -6.8,0zM2.55,3.2A2.35,2.35 0 1,0 7.25,3.2A2.35,2.35 0 1,0 2.55,3.2z" fill-rule="evenodd"/><path d="M0.2,4.3C0.7,8.4 9.1,8.4 9.6,4.3" fill="none" stroke="#000" stroke-width="1.0" stroke-linecap="butt" stroke-linejoin="miter"/><path d="M4.9,7.2V13.5M2.1,11.5H7.7" fill="none" stroke="#000" stroke-width="1.25" stroke-linecap="butt" stroke-linejoin="miter"/></g>
<g transform="translate(728.5,314) scale(1)"><path d="M0.3,0.2C2.2,1.7 2.2,4.4 0.3,5.9M9.1,0.2C7.2,1.7 7.2,4.4 9.1,5.9" fill="none" stroke="#000" stroke-width="1.15" stroke-linecap="butt" stroke-linejoin="miter"/><path d="M1.7,3.1H7.7" fill="none" stroke="#000" stroke-width="0.9" stroke-linecap="butt" stroke-linejoin="miter"/><path d="M4.7,0.2V6.8" fill="none" stroke="#000" stroke-width="1.2" stroke-linecap="butt" stroke-linejoin="miter"/><path d="M0.85,10.3a3.85,3.5 0 1,0 7.7,0a3.85,3.5 0 1,0 -7.7,0zM2.1,10.3A2.6,2.8 0 1,0 7.3,10.3A2.6,2.8 0 1,0 2.1,10.3z" fill-rule="evenodd"/></g>
<g transform="translate(773,314) scale(1)"><path d="M4.4,0V9.2" fill="none" stroke="#000" stroke-width="1.2" stroke-linecap="butt" stroke-linejoin="miter"/><path d="M7.9,0.9L4.8,4.1L7.9,6" fill="none" stroke="#000" stroke-width="0.85" stroke-linecap="butt" stroke-linejoin="miter"/><path d="M0,11.2a4.2,2.5 0 1,0 8.4,0a4.2,2.5 0 1,0 -8.4,0zM1.2,11.2A3,1.55 0 1,0 7.2,11.2A3,1.55 0 1,0 1.2,11.2z" fill-rule="evenodd"/></g>
</g>
<g font-family="Liberation Sans, sans-serif" fill="#000">
<text x="1.5" y="90" font-size="11.3" textLength="22.23" lengthAdjust="spacingAndGlyphs">Sun</text>
<text x="1.5" y="101" font-size="11.3" textLength="51.13" lengthAdjust="spacingAndGlyphs">25.4, 9.8</text>
<text x="2.5" y="112.5" font-size="11.3" textLength="29.33" lengthAdjust="spacingAndGlyphs">Moon</text>
<text x="2" y="124" font-size="11.3" textLength="69.52" lengthAdjust="spacingAndGlyphs">264.3, -27.6</text>
<text x="2" y="136" font-size="11.3" textLength="44.88" lengthAdjust="spacingAndGlyphs">Mercury</text>
<text x="2" y="148" font-size="11.3" textLength="57.48" lengthAdjust="spacingAndGlyphs">31.8, 14.5</text>
<text x="3" y="158.5" font-size="11.3" textLength="33.46" lengthAdjust="spacingAndGlyphs">Venus</text>
<text x="1.5" y="170.5" font-size="11.3" textLength="63.19" lengthAdjust="spacingAndGlyphs">350.8, -4.9</text>
<text x="2" y="182.5" font-size="11.3" textLength="26.16" lengthAdjust="spacingAndGlyphs">Mars</text>
<text x="2" y="194" font-size="11.3" textLength="69.52" lengthAdjust="spacingAndGlyphs">290.3, -22.8</text>
<text x="2" y="205.5" font-size="11.3" textLength="37.91" lengthAdjust="spacingAndGlyphs">Jupiter</text>
<text x="2.5" y="217" font-size="11.3" textLength="69.52" lengthAdjust="spacingAndGlyphs">245.6, -20.2</text>
<text x="1.5" y="228.5" font-size="11.3" textLength="38.5" lengthAdjust="spacingAndGlyphs">Saturn</text>
<text x="1.5" y="240.5" font-size="11.3" textLength="58.34" lengthAdjust="spacingAndGlyphs">52.0, 16.4</text>
<text x="2" y="252" font-size="11.3" textLength="39.54" lengthAdjust="spacingAndGlyphs">Uranus</text>
<text x="2" y="264" font-size="11.3" textLength="62.17" lengthAdjust="spacingAndGlyphs">190.9, -3.7</text>
<text x="2.5" y="274.5" font-size="11.3" textLength="45.87" lengthAdjust="spacingAndGlyphs">Neptune</text>
<text x="2" y="286.5" font-size="11.3" textLength="70.36" lengthAdjust="spacingAndGlyphs">242.6, -19.0</text>
<text x="2" y="298" font-size="11.3" textLength="27.9" lengthAdjust="spacingAndGlyphs">Pluto</text>
<text x="2" y="310" font-size="11.3" textLength="64.77" lengthAdjust="spacingAndGlyphs">177.7, 16.0</text>
<text x="2" y="322" font-size="11.3" textLength="36.4" lengthAdjust="spacingAndGlyphs">Chiron</text>
<text x="2" y="334" font-size="11.3" textLength="51.14" lengthAdjust="spacingAndGlyphs">10.7, 6.2</text>
<text x="2.5" y="594.5" font-size="13.4" textLength="152.38" lengthAdjust="spacingAndGlyphs">www.harmoniclife.com</text>
<text x="615" y="594.5" font-size="13.0" textLength="69.16" lengthAdjust="spacingAndGlyphs">AstroChart</text>
<text x="690.25" y="594.5" font-size="13.0" textLength="41.67" lengthAdjust="spacingAndGlyphs">Patent</text>
<text x="737.75" y="594.5" font-size="13.0" textLength="50.84" lengthAdjust="spacingAndGlyphs">Pending</text>
<text x="89" y="56" font-size="24.2" textLength="140.1" lengthAdjust="spacingAndGlyphs">1971-04-16</text>
<text x="238.5" y="56" font-size="24.2" textLength="9.64" lengthAdjust="spacingAndGlyphs">-</text>
<text x="256.75" y="56" font-size="24.2" textLength="47.86" lengthAdjust="spacingAndGlyphs">Max</text>
<text x="314.75" y="56" font-size="24.2" textLength="100.41" lengthAdjust="spacingAndGlyphs">Beesley,</text>
<text x="422.75" y="56" font-size="24.2" textLength="86.66" lengthAdjust="spacingAndGlyphs">English</text>
<text x="518.5" y="56" font-size="24.2" textLength="59.88" lengthAdjust="spacingAndGlyphs">actor</text>
<text x="587.25" y="56" font-size="24.2" textLength="43.55" lengthAdjust="spacingAndGlyphs">and</text>
<text x="639.5" y="56" font-size="24.2" textLength="72.99" lengthAdjust="spacingAndGlyphs">singer</text>
<text x="751" y="94.5" font-size="13.8" textLength="22.01" lengthAdjust="spacingAndGlyphs">120</text>
<text x="751" y="114.5" font-size="13.8" textLength="22.01" lengthAdjust="spacingAndGlyphs">150</text>
<text x="751" y="134" font-size="13.8" textLength="22.01" lengthAdjust="spacingAndGlyphs">150</text>
<text x="743" y="153" font-size="13.8" textLength="20.94" lengthAdjust="spacingAndGlyphs">150</text>
<text x="744.5" y="172.5" font-size="13.8" textLength="14.3" lengthAdjust="spacingAndGlyphs">60</text>
<text x="744.5" y="191.5" font-size="13.8" textLength="14.51" lengthAdjust="spacingAndGlyphs">60</text>
<text x="752.5" y="230.5" font-size="13.8" textLength="14.37" lengthAdjust="spacingAndGlyphs">45</text>
<text x="752" y="250" font-size="13.8" textLength="20.97" lengthAdjust="spacingAndGlyphs">120</text>
<text x="752.5" y="269.5" font-size="13.8" textLength="14.37" lengthAdjust="spacingAndGlyphs">45</text>
<text x="745.5" y="288.5" font-size="13.8" textLength="7.78" lengthAdjust="spacingAndGlyphs">0</text>
<text x="745" y="327.5" font-size="13.8" textLength="20.94" lengthAdjust="spacingAndGlyphs">180</text>
<text x="387.75" y="594.5" font-size="13.0" textLength="23.9" lengthAdjust="spacingAndGlyphs">195</text>
</g>
</svg>
</body></html>
